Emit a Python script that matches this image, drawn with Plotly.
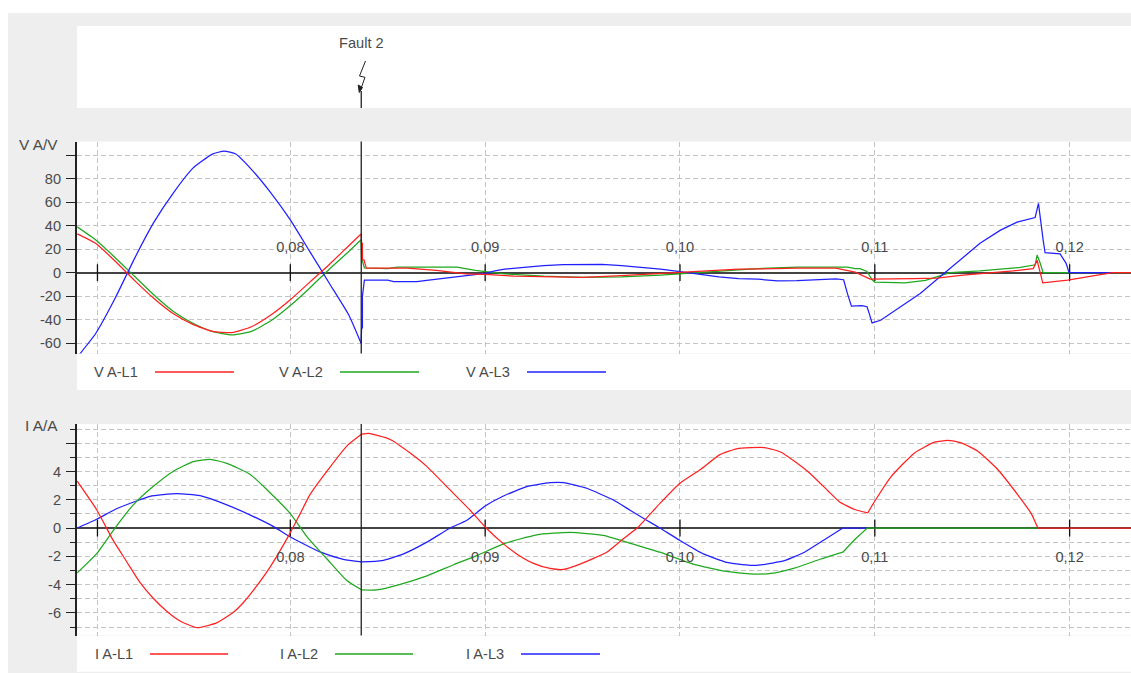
import plotly.graph_objects as go

# ---------- data ----------
t_v1 = [.06906,.0700,.0710,.0720,.0730,.0740,.0750,.0760,.0770,.0780,.0790,.0800,.0810,.0820,.0830,.08363,
        .08366,.0837,.0837,.08378,.0839,.0860,.0875,.0890,.0900,.0915,.0950,.0970,.0990,.1000,.1010,.1030,.1060,.1080,.10899,.10976,.1120,.11319,.11453,.11627,.1171,.11813,.11833,.11849,.11862,.1199,.1222,.12315]
v_l1 = [33,25,10,-6.5,-22,-35,-44,-50,-51,-46,-36,-23,-8,7,23,33,
        25,25,11,11,3.8,3.8,2,-1,-1.5,-3,-4,-2.5,-.8,.5,1.5,3,3.8,3.8,.5,-5.5,-5,-4.6,-2,0,1.5,3.5,10.6,0,-8.7,-6.4,0,0]
t_v2 = [.06906,.0700,.0710,.0720,.0730,.0740,.0750,.0760,.0770,.0780,.0790,.0800,.0810,.0820,.0830,.08363,
        .08366,.0837,.0838,.0850,.0855,.08856,.0895,.0910,.0930,.0950,.0970,.0990,.1000,.1020,.1040,.1060,.1080,.1086,.10899,.10924,.1096,.10986,.1100,.11155,.1126,.1136,.11386,.1154,.11643,.11746,.11823,.11833,.11849,.11864,.12315]
v_l2 = [39,28,13,-3,-19,-33,-43,-50,-53,-50,-41,-28,-13,3,18,28,
        10,10,4,3.5,4.7,4.7,2,-1,-3,-4,-3.5,-2,-1,1.5,3.5,4.8,4.8,4.7,3.5,3.5,1,-6,-8,-8.6,-6.5,-1.5,0,1.5,3,4.5,6.7,15,8,0,0]
t_v3 = [.06906,.0700,.0710,.0720,.0730,.0740,.0750,.0760,.0766,.0772,.0780,.0790,.0800,.0810,.0820,.0830,.08363,
        .08366,.0837,.0837,.0838,.0850,.0853,.0865,.0870,.0880,.0890,.0900,.0905,.0910,.0920,.0930,.0940,.0960,.0970,.0980,.0990,.1000,.1010,.1020,.1030,.1040,.1050,.1060,.1080,.1084,.1086,.1088,.10934,.1096,.1097,.10986,.1103,.1113,.11233,.11335,.1136,.11438,.1154,.11643,.1173,.11823,.11833,.1184,.11864,.11874,.11951,.11982,.11997,.1222]
v_l3 = [-72,-52,-22,12,43,68,89,101,103.5,101,88,68,45,18,-9,-36,-60,
        -47,-47,-20,-6.4,-6.4,-7.5,-7.5,-6.5,-4.5,-2,-.5,1.5,3,4.5,6,6.8,7,6,4.8,3,1,-1.5,-3.5,-5,-5.5,-7,-6.8,-5.3,-6,-18,-28.5,-28,-29,-34,-42.7,-40.5,-29,-17.7,-3.5,0,11.5,25,36,43,47,55,59,28,17,16,8,0,0]

t_i1 = [.06906,.07006,.0709,.07161,.07228,.07295,.07367,.07434,.07521,.07624,.07706,.07757,.07809,.07896,.07998,.0805,.08101,.08188,.08291,.08367,
        .08402,.08513,.08615,.087,.08812,.08923,.09,.09094,.09162,.09248,.09333,.09402,.09487,.09624,.09709,.09786,.09897,.1,.10103,.10205,.10291,.10433,.10519,.10656,.10759,.10818,.10896,.10964,.10998,.11084,.11204,.11307,.11375,.11443,.11529,.11632,.11735,.11803,.11837,.12315]
i_l1 = [3.31,1.29,-.86,-2.4,-3.85,-4.95,-5.9,-6.57,-7.05,-6.69,-5.98,-5.3,-4.43,-2.76,-.38,1.0,2.36,4.02,5.81,6.64,
        6.69,6.26,5.3,4.36,2.8,1.26,.07,-1.12,-1.83,-2.5,-2.86,-2.93,-2.55,-1.71,-.76,.07,1.74,3.17,4.12,5.19,5.6,5.69,5.36,4.0,2.64,1.86,1.31,1.07,1.86,3.64,5.31,6.07,6.19,6.02,5.43,4.12,2.33,1.02,0,0]
t_i2 = [.06906,.07006,.071,.07194,.07297,.074,.07502,.07588,.07674,.07794,.0788,.07998,.08092,.08187,.0829,.08367,
        .08444,.08564,.08701,.08838,.08957,.09094,.09265,.09436,.09607,.09726,.09897,.10068,.10239,.10359,.10467,.10587,.10724,.10836,.10896,.10961,.11837]
i_l2 = [-3.17,-1.81,0,1.64,2.95,4.02,4.69,4.86,4.57,3.79,2.71,1.05,-.74,-2.17,-3.71,-4.38,
        -4.38,-3.98,-3.38,-2.6,-1.95,-1.12,-.48,-.31,-.52,-1,-1.71,-2.55,-3.07,-3.24,-3.21,-2.83,-2.19,-1.71,-.83,0,0]
t_i3 = [.06906,.07006,.07108,.07228,.0728,.07417,.07537,.07674,.07811,.07914,.07998,.08152,.08272,.08367,
        .0847,.08581,.08701,.08821,.08906,.09,.09094,.09214,.09333,.09402,.09521,.09658,.09744,.09829,.09897,.1,.1012,.10239,.10359,.10416,.10536,.10639,.10741,.10836,.10961]
i_l3 = [0,.62,1.36,2,2.24,2.43,2.29,1.64,.81,.1,-.62,-1.69,-2.21,-2.4,
        -2.31,-1.83,-1,0,.55,1.55,2.26,2.93,3.21,3.21,2.81,1.98,1.26,.55,0,-.88,-1.83,-2.43,-2.64,-2.6,-2.31,-1.71,-.83,0,0]

x_ticks = [.0701,.08,.09,.10,.11,.12]
x_labels = ["","0,08","0,09","0,10","0,11","0,12"]
x_range = [.06905,.12315]
fault_t = .08364
fault_name = "Fault 2"
v_ticks = [100,80,60,40,20,0,-20,-40,-60]
v_labels = ["","80","60","40","20","0","-20","-40","-60"]
i_ticks = [6,4,2,0,-2,-4,-6]
i_labels = ["","4","2","0","-2","-4","-6"]
i_minor = [7,5,3,1,-1,-3,-5,-7]
v_names = ["V A-L1","V A-L2","V A-L3"]
i_names = ["I A-L1","I A-L2","I A-L3"]
# times where a curve has a corner; smooth stretches between them are listed per series
v_corner = [fault_t]
i1_corners = [.08367, .10964, .11837]
i2_corners = [.08367, .10836]
i3_corners = [.08367, .10836]

# ---------- layout helpers ----------
W, H = 1131, 673
RED, GREEN, BLUE = "#FF2020", "#1FA81F", "#2020FF"
GRID = "#C4C4C4"
TXT = "#4A4A4A"
FONT = "Liberation Sans"
FS = 14.6
fx = lambda p: p / W
fy = lambda p: 1 - p / H

V_TOP, V_BOT, I_TOP, I_BOT = 141.5, 353.5, 424, 635.5
v_range = [-68.8, 111.7]
i_range = [-7.6, 7.355]
zero_v = V_BOT + (V_TOP - V_BOT) * (0 - v_range[0]) / (v_range[1] - v_range[0])
zero_i = I_BOT + (I_TOP - I_BOT) * (0 - i_range[0]) / (i_range[1] - i_range[0])

fig = go.Figure()

def curve(t, v, name, color, xa, ya, smooth_until):
    """Draw a series: smooth through the stretches before each corner time, straight after the last one."""
    start = 0
    for corner in smooth_until + [None]:
        end = len(t) - 1 if corner is None else min(range(len(t)), key=lambda i: abs(t[i] - corner))
        shape = "linear" if corner is None else "spline"
        fig.add_trace(go.Scatter(x=t[start:end + 1], y=v[start:end + 1], name=name, xaxis=xa, yaxis=ya, mode="lines",
                                 showlegend=False, line=dict(color=color, width=1.25, shape=shape,
                                                             **({"smoothing": 0.5} if shape == "spline" else {}))))
        start = end

# x tick marks crossing the zero line
for xa, ya in (("x", "y"), ("x2", "y2")):
    fig.add_trace(go.Scatter(x=x_ticks, y=[0] * len(x_ticks), xaxis=xa, yaxis=ya, mode="markers", hoverinfo="skip",
                             showlegend=False, marker=dict(symbol="line-ns", size=12, line=dict(color="#111", width=1.3))))
curve(t_v2, v_l2, v_names[1], GREEN, "x", "y", v_corner)
curve(t_v3, v_l3, v_names[2], BLUE, "x", "y", v_corner)
curve(t_v1, v_l1, v_names[0], RED, "x", "y", v_corner)
curve(t_i3, i_l3, i_names[2], BLUE, "x2", "y2", i3_corners)
curve(t_i2, i_l2, i_names[1], GREEN, "x2", "y2", i2_corners)
curve(t_i1, i_l1, i_names[0], RED, "x2", "y2", i1_corners)

xcommon = dict(range=x_range, domain=[fx(77), 1], tickmode="array", tickvals=x_ticks, ticktext=x_labels, ticks="",
               showgrid=True, gridcolor=GRID, griddash="5px,3px", gridwidth=1, zeroline=False, showline=False,
               anchor="free", tickfont=dict(family=FONT, size=FS, color=TXT))
ycommon = dict(tickmode="array", showgrid=True, gridcolor=GRID, griddash="5px,3px", gridwidth=1,
               zeroline=True, zerolinecolor="#444", zerolinewidth=2, showline=True, linecolor="#222", linewidth=2,
               ticks="outside", ticklen=9, tickcolor="#222", tickwidth=1.2, ticklabelstandoff=2,
               tickfont=dict(family=FONT, size=FS, color=TXT))
fig.update_layout(
    width=W, height=H, margin=dict(l=0, r=0, t=0, b=0), autosize=False,
    paper_bgcolor="#EEEEEE", plot_bgcolor="white", showlegend=False,
    font=dict(family=FONT, size=FS, color=TXT),
    xaxis=dict(xcommon, side="top", position=fy(zero_v), ticklabelstandoff=18),
    xaxis2=dict(xcommon, side="bottom", position=fy(zero_i), ticklabelstandoff=18),
    yaxis=dict(ycommon, range=v_range, domain=[fy(V_BOT), fy(V_TOP)], tickvals=v_ticks, ticktext=v_labels, anchor="x"),
    yaxis2=dict(ycommon, range=i_range, domain=[fy(I_BOT), fy(I_TOP)], tickvals=i_ticks, ticktext=i_labels, anchor="x2",
                minor=dict(tickmode="array", tickvals=i_minor, ticks="outside", ticklen=5, tickcolor="#222",
                           showgrid=True, gridcolor=GRID, griddash="5px,3px", gridwidth=1)),
)

def rect(x0, y0, x1, y1, c="white"):
    fig.add_shape(type="rect", xref="paper", yref="paper", x0=fx(x0), x1=fx(x1), y0=fy(y0), y1=fy(y1),
                  fillcolor=c, line_width=0, layer="below")

rect(0, 0, 8, H)
rect(0, 0, W, 13)
rect(77, 26, W, 108)
rect(77, 354, W, 390)
rect(77, 636, W, 671.7)

# fault marker
for ya in ("y domain", "y2 domain"):
    fig.add_shape(type="line", xref="x", yref=ya, x0=fault_t, x1=fault_t, y0=0, y1=1, line=dict(color="#222", width=1.3))
fig.add_shape(type="line", xref="x", yref="paper", x0=fault_t, x1=fault_t, y0=fy(108), y1=fy(91), line=dict(color="#222", width=1.3))
bolt = [(365.5, 61), (359.5, 76), (365, 77.3), (360.5, 90)]
fig.add_shape(type="path", xref="paper", yref="paper", line=dict(color="#222", width=1),
              path="M " + " L ".join(f"{fx(a):.5f},{fy(b):.5f}" for a, b in bolt))
head = [(359.3, 92.5), (358.2, 85), (362.5, 87.5)]
fig.add_shape(type="path", xref="paper", yref="paper", line=dict(color="#222", width=1), fillcolor="#222",
              path="M " + " L ".join(f"{fx(a):.5f},{fy(b):.5f}" for a, b in head) + " Z")

def text(s, x, y, anchor="left", size=FS):
    fig.add_annotation(text=s, xref="paper", yref="paper", x=fx(x), y=fy(y), xanchor=anchor, yanchor="middle",
                       showarrow=False, font=dict(family=FONT, size=size, color=TXT))

text(fault_name, 361.5, 43, "center")
text("V A/V", 59.5, 144, "right", 15.4)
text("I A/A", 59.5, 425, "right", 15.4)

def legend(names, y, items):
    for n, (tx, x0, x1), c in zip(names, items, (RED, GREEN, BLUE)):
        text(n, tx, y)
        fig.add_shape(type="line", xref="paper", yref="paper", x0=fx(x0), x1=fx(x1), y0=fy(y), y1=fy(y),
                      line=dict(color=c, width=1.3))

legend(v_names, 372, [(92, 155, 234), (276.5, 340, 419), (463.5, 527, 606)])
legend(i_names, 654, [(92.5, 150, 228), (277.5, 335, 413), (463.5, 521, 600)])

fig.write_html("out.html", config=dict(displayModeBar=False),
               post_script="document.body.style.margin='0';document.body.style.overflow='hidden';")
